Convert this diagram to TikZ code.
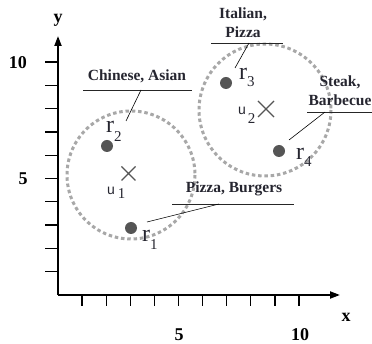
\documentclass[tikz,border=0pt]{standalone}
\usepackage{fontspec}
\setmainfont{Liberation Serif}
\newfontfamily\usans{Liberation Sans}
\usetikzlibrary{arrows.meta}
\definecolor{txt}{HTML}{262630}
\definecolor{dotc}{HTML}{555555}
\definecolor{circc}{HTML}{A8A8A8}
\tikzset{
  axisline/.style={line width=2pt, black, -{Triangle[length=10pt,width=7pt]}},
  tickline/.style={line width=1.3pt, black},
  axlab/.style={font=\fontsize{18}{18}\selectfont\bfseries, text=black, inner sep=0},
  cuisine/.style={font=\fontsize{15.5}{19}\selectfont\bfseries, text=txt, inner sep=0, align=center},
  uline/.style={line width=0.8pt, black!85},
  leader/.style={line width=0.6pt, black},
  dotnode/.style={circle, fill=dotc, minimum size=12pt, inner sep=0},
  clus/.style={line width=3pt, circc, dash pattern=on 3.5pt off 2.8pt},
  xmark/.style={line width=1.3pt, dotc},
  rlab/.style={font=\fontsize{24}{24}\selectfont, text=txt, inner sep=0, anchor=base west},
  ulab/.style={font=\usans\fontsize{14}{14}\selectfont, text=txt, inner sep=0, anchor=base west}
}
\newcommand{\subn}[2]{\raisebox{-#1pt}{\fontsize{15}{15}\selectfont\rmfamily #2}}
\begin{document}
\begin{tikzpicture}[x=1pt,y=-1pt]
\useasboundingbox (0,0) rectangle (372,344);
% axes
\coordinate (O) at (58,295);
\coordinate (ytip) at (58,36);
\coordinate (xtip) at (340,295);
\draw[axisline] (O) -- (ytip);
\draw[axisline] (O) -- (xtip);
\foreach \k in {1,...,10} {
  \draw[tickline] (45,{295-23.3*\k}) -- (58,{295-23.3*\k});
  \draw[tickline] ({58+24.1*\k},295) -- ({58+24.1*\k},306);
}
\node[axlab] (ylab) at (58,20) {y};
\node[axlab] (xlab) at (346,317) {x};
\node[axlab] (y10) at (18,63) {10};
\node[axlab] (y5) at (23,179) {5};
\node[axlab] (x5) at (179,335) {5};
\node[axlab] (x10) at (300,335) {10};
% clusters
\draw[clus] (131,175) circle (64);
\draw[clus] (265,110) circle (66);
% centroids
\draw[xmark] (121.5,166.5) -- (135.5,180.5) (121.5,180.5) -- (135.5,166.5);
\draw[xmark] (258,101) -- (274,117) (258,117) -- (274,101);
\node[ulab] (u1) at (107,195) {u\hspace{3pt}\subn{4}{1}};
\node[ulab] (u2) at (238,115) {u\hspace{2pt}\subn{9}{2}};
% restaurants
\node[dotnode] (r1) at (131,228) {};
\node[dotnode] (r2) at (107,146) {};
\node[dotnode] (r3) at (226,83) {};
\node[dotnode] (r4) at (279,151) {};
\node[rlab] (r1l) at (142,242) {r\subn{8}{1}};
\node[rlab] (r2l) at (106,133) {r\subn{9}{2}};
\node[rlab] (r3l) at (239,80) {r\subn{7}{3}};
\node[rlab] (r4l) at (296,160) {r\subn{7}{4}};
% cuisine labels
\node[cuisine] (chinese) at (137,76) {Chinese, Asian};
\draw[uline] (83,90) -- (192,90);
\coordinate (c2a) at (141,90); \coordinate (c2b) at (126,121);
\draw[leader] (c2a) -- (c2b);

\node[cuisine] (italian) at (243,22.5) {Italian,\\Pizza};
\draw[uline] (211,43) -- (283,43);
\coordinate (c3a) at (249,43); \coordinate (c3b) at (235,68);
\draw[leader] (c3a) -- (c3b);

\node[cuisine] (steak) at (340,91) {Steak,\\Barbecue};
\draw[uline] (307,112) -- (372,112);
\coordinate (c4a) at (325,112); \coordinate (c4b) at (289,140);
\draw[leader] (c4a) -- (c4b);

\node[cuisine] (pizza) at (234,189) {Pizza, Burgers};
\draw[uline] (172,204) -- (294,204);
\coordinate (c1a) at (219,204); \coordinate (c1b) at (147,222);
\draw[leader] (c1a) -- (c1b);
\end{tikzpicture}
\end{document}
